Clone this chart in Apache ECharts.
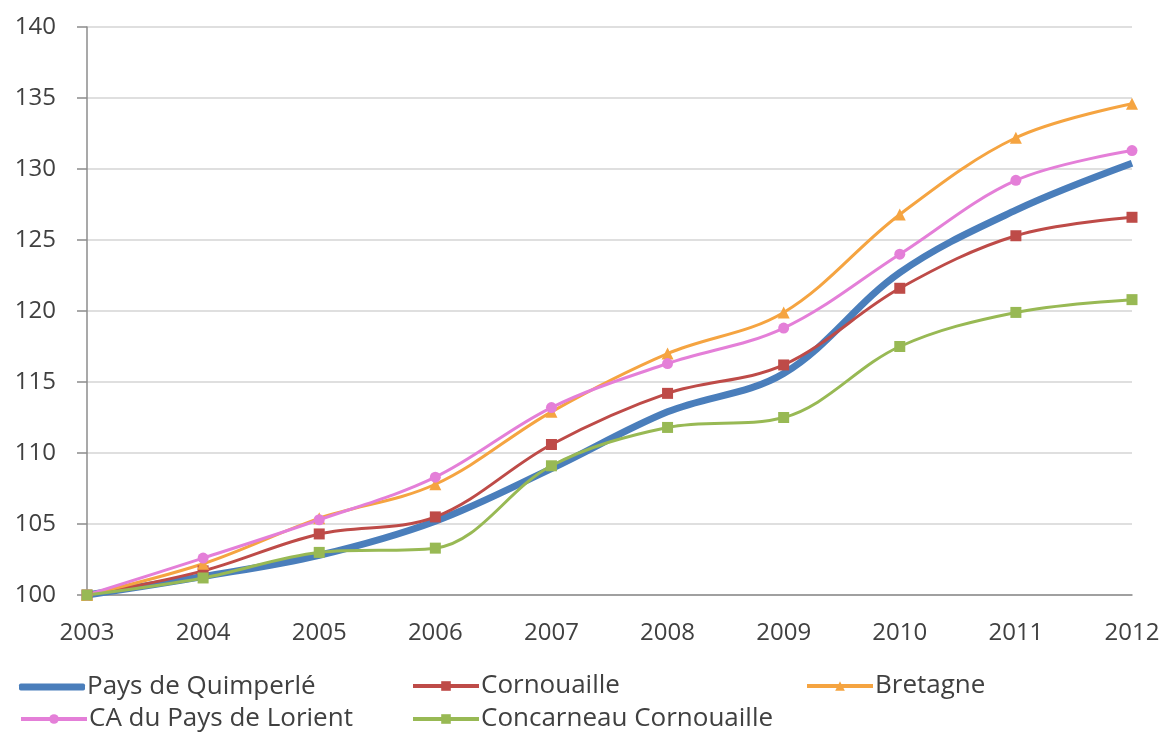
<!DOCTYPE html>
<html>
<head>
<meta charset="utf-8">
<script src="https://cdn.jsdelivr.net/npm/echarts@6/dist/echarts.min.js"></script>
<style>
  html, body { margin: 0; padding: 0; background: #fff; }
  #chart { width: 1169px; height: 732px; }
</style>
</head>
<body>
<div id="chart"></div>
<script>
// data (index, 2003 = 100)
var years = ['2003', '2004', '2005', '2006', '2007', '2008', '2009', '2010', '2011', '2012'];
var quimperle = [100, 101.3, 102.8, 105.2, 108.9, 112.9, 115.6, 122.7, 127.1, 130.4];
var cornouaille = [100, 101.7, 104.3, 105.5, 110.6, 114.2, 116.2, 121.6, 125.3, 126.6];
var bretagne = [100, 102.2, 105.4, 107.8, 112.9, 117.0, 119.9, 126.8, 132.2, 134.6];
var lorient = [100, 102.6, 105.3, 108.3, 113.2, 116.3, 118.8, 124.0, 129.2, 131.3];
var concarneau = [100, 101.2, 103.0, 103.3, 109.1, 111.8, 112.5, 117.5, 119.9, 120.8];

var FONT = 'Open Sans';
var TXT = '#404040';

var chart = echarts.init(document.getElementById('chart'));

function legendAt(item, left, top, h) {
  return {
    data: [item], left: left, top: top,
    itemWidth: 66, itemHeight: h || 12, itemGap: 4,
    lineStyle: { width: 4 },
    textStyle: { fontFamily: FONT, fontSize: 26, color: TXT, padding: [0, 0, 0, -3] }
  };
}

function line(name, data, color, symbol, size, width) {
  return {
    name: name, type: 'line', data: data, smooth: 0.35,
    symbol: symbol, symbolSize: size, showSymbol: symbol !== 'none',
    lineStyle: { color: color, width: width },
    itemStyle: { color: color },
    z: name === 'Pays de Quimperlé' ? 1 : 2
  };
}

var option = {
  backgroundColor: '#fff',
  animation: false,
  grid: { left: 87, right: 37, top: 27, bottom: 137 },
  legend: [
    legendAt({ name: 'Pays de Quimperlé', icon: 'roundRect' }, 14, 669, 7),
    legendAt('Cornouaille', 406, 668),
    legendAt('Bretagne', 800, 668),
    legendAt('CA du Pays de Lorient', 14, 701),
    legendAt('Concarneau Cornouaille', 406, 701)
  ],
  xAxis: {
    type: 'category', data: years, boundaryGap: false,
    axisLine: { lineStyle: { color: '#8c8c8c', width: 1.5 } },
    axisTick: { show: false },
    axisLabel: { fontFamily: FONT, fontSize: 24, color: TXT, margin: 26 },
    splitLine: { show: false }
  },
  yAxis: {
    type: 'value', min: 100, max: 140, interval: 5,
    axisLine: { show: true, lineStyle: { color: '#8c8c8c', width: 1.5 } },
    axisTick: { show: true, length: 10, lineStyle: { color: '#8c8c8c', width: 1.5 } },
    axisLabel: { fontFamily: FONT, fontSize: 24, color: TXT, margin: 31 },
    splitLine: { lineStyle: { color: '#d4d4d4', width: 1.5 } }
  },
  series: [
    line('Pays de Quimperlé', quimperle, '#4a7ebb', 'none', 0, 7),
    line('Cornouaille', cornouaille, '#be4b48', 'rect', 11, 3),
    line('Bretagne', bretagne, '#f5a441', 'triangle', 12, 3),
    line('CA du Pays de Lorient', lorient, '#e47fd8', 'circle', 11, 3),
    line('Concarneau Cornouaille', concarneau, '#98b954', 'rect', 11, 3)
  ]
};

chart.setOption(option);
</script>
</body>
</html>
